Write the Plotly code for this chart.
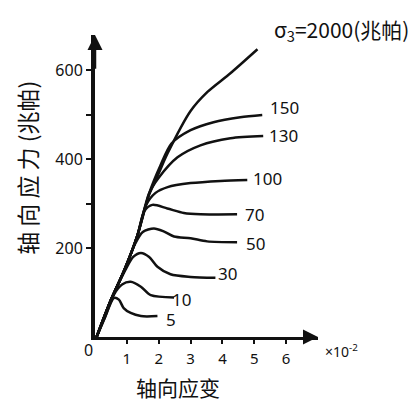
import plotly.graph_objects as go

# ---- data (strain x10^-2, stress MPa) ----
curve_names = ["5", "10", "30", "50", "70", "100", "130", "150", "2000"]
strain_5 = [0.05, 0.3, 0.6, 0.75, 0.9, 1.12, 1.44, 1.96]
stress_5 = [0, 42, 88, 84, 65, 54, 47, 47]
strain_10 = [0.05, 0.3, 0.6, 0.85, 1.12, 1.44, 1.75, 2.48]
stress_10 = [0, 42, 96, 118, 124, 113, 94, 89]
strain_30 = [0.05, 0.5, 0.95, 1.2, 1.44, 1.7, 1.96, 2.37, 3.0, 3.78]
stress_30 = [0, 83, 150, 180, 189, 180, 158, 141, 135, 133]
strain_50 = [0.05, 0.5, 0.92, 1.25, 1.5, 1.85, 2.17, 2.48, 3.0, 3.52, 4.46]
stress_50 = [0, 83, 150, 208, 236, 244, 237, 226, 222, 215, 213]
strain_70 = [0.05, 0.5, 0.92, 1.33, 1.55, 1.8, 2.27, 2.79, 3.31, 4.46]
stress_70 = [0, 83, 150, 228, 283, 297, 289, 279, 276, 276]
strain_100 = [0.05, 0.5, 0.92, 1.33, 1.6, 1.9, 2.28, 3.0, 3.94, 4.78]
stress_100 = [0, 83, 150, 228, 296, 324, 337, 346, 351, 353]
strain_130 = [0.05, 0.5, 0.92, 1.33, 1.7, 2.0, 2.59, 3.31, 4.25, 5.28]
stress_130 = [0, 83, 150, 228, 323, 358, 404, 431, 447, 452]
strain_150 = [0.05, 0.5, 0.92, 1.33, 1.7, 2.05, 2.4, 3.0, 3.72, 4.56, 5.25]
stress_150 = [0, 83, 150, 228, 323, 385, 435, 465, 483, 494, 499]
strain_2000 = [0.05, 0.5, 0.92, 1.33, 1.7, 2.0, 2.28, 3.0, 3.53, 4.25, 5.1]
stress_2000 = [0, 83, 150, 228, 320, 368, 413, 508, 551, 593, 647]

# label anchor points (strain, stress) for the curve labels
label_text = ["5", "10", "30", "50", "70", "100", "130", "150"]
label_x = [2.38, 2.73, 4.17, 5.05, 5.02, 5.42, 5.92, 5.94]
label_y = [40, 85, 142, 211, 276, 357, 452, 517]

x_ticks = [1, 2, 3, 4, 5, 6]
y_ticks = [200, 400, 600]
y_minor_ticks = [300, 500]
X_MAX, Y_MAX = 7.0, 679

FONT = "Noto Sans CJK SC"
NUMFONT = "Noto Sans"

strains = [strain_5, strain_10, strain_30, strain_50, strain_70,
           strain_100, strain_130, strain_150, strain_2000]
stresses = [stress_5, stress_10, stress_30, stress_50, stress_70,
            stress_100, stress_130, stress_150, stress_2000]

fig = go.Figure()
for name, xs, ys in zip(curve_names, strains, stresses):
    fig.add_trace(go.Scatter(
        x=xs, y=ys, mode="lines", name=name,
        line=dict(color="#111111", width=2.5, shape="spline", smoothing=0.8),
        showlegend=False, hoverinfo="skip"))

annotations = []
for t, lx, ly in zip(label_text, label_x, label_y):
    annotations.append(dict(x=lx, y=ly, xref="x", yref="y", text=t,
                            xanchor="center", yanchor="middle",
                            showarrow=False, font=dict(size=17, color="#111", family=NUMFONT)))

annotations += [
    dict(x=0.794, y=1.017, xref="paper", yref="paper", xanchor="left", yanchor="middle",
         text="σ<sub>3</sub>=2000(兆帕)", showarrow=False,
         font=dict(size=21, color="#111", family=FONT)),
    dict(x=1.022, y=-0.046, xref="paper", yref="paper", xanchor="left", yanchor="middle",
         text="×10<sup>-2</sup>", showarrow=False,
         font=dict(size=14, color="#111", family=NUMFONT)),
    dict(x=-0.031, y=-0.043, xref="paper", yref="paper", xanchor="center", yanchor="middle",
         text="0", showarrow=False, font=dict(size=16, color="#111", family=NUMFONT)),
    dict(x=0.372, y=-0.165, xref="paper", yref="paper", xanchor="center", yanchor="middle",
         text="轴向应变", showarrow=False,
         font=dict(size=21, color="#111", family=FONT)),
    dict(x=-0.305, y=0.56, xref="paper", yref="paper", xanchor="center", yanchor="middle",
         textangle=-90, text="轴 向 应 力 (兆帕)", showarrow=False,
         font=dict(size=23, color="#111", family=FONT)),
    # axis arrows
    dict(x=0, y=Y_MAX, ax=0, ay=600, xref="x", yref="y", axref="x", ayref="y",
         text="", showarrow=True, arrowhead=2, arrowsize=1.2, arrowwidth=2.5, arrowcolor="#111"),
    dict(x=X_MAX, y=0, ax=6.5, ay=0, xref="x", yref="y", axref="x", ayref="y",
         text="", showarrow=True, arrowhead=2, arrowsize=1.2, arrowwidth=2.5, arrowcolor="#111"),
]

# page has an 8px body margin, so margins are offset by -8
fig.update_layout(
    width=420, height=411,
    margin=dict(l=87, r=110, t=27, b=82),
    paper_bgcolor="white", plot_bgcolor="white",
    annotations=annotations,
    font=dict(family=FONT, color="#111"),
)
fig.update_xaxes(range=[0, X_MAX], showgrid=False, zeroline=False, showline=True,
                 linecolor="#111", linewidth=3, ticks="outside", ticklen=4,
                 tickwidth=2, tickcolor="#111", tickvals=x_ticks,
                 ticklabelstandoff=2, tickfont=dict(size=15, family=NUMFONT, color="#111"))
fig.update_yaxes(range=[0, Y_MAX], showgrid=False, zeroline=False, showline=True,
                 linecolor="#111", linewidth=4, ticks="outside", ticklen=5,
                 tickwidth=2, tickcolor="#111", tickvals=y_ticks,
                 minor=dict(tickvals=y_minor_ticks, ticks="outside", ticklen=5,
                            tickwidth=2, tickcolor="#111", showgrid=False),
                 tickfont=dict(size=16, family=NUMFONT, color="#111"))

fig.write_html("out.html")
